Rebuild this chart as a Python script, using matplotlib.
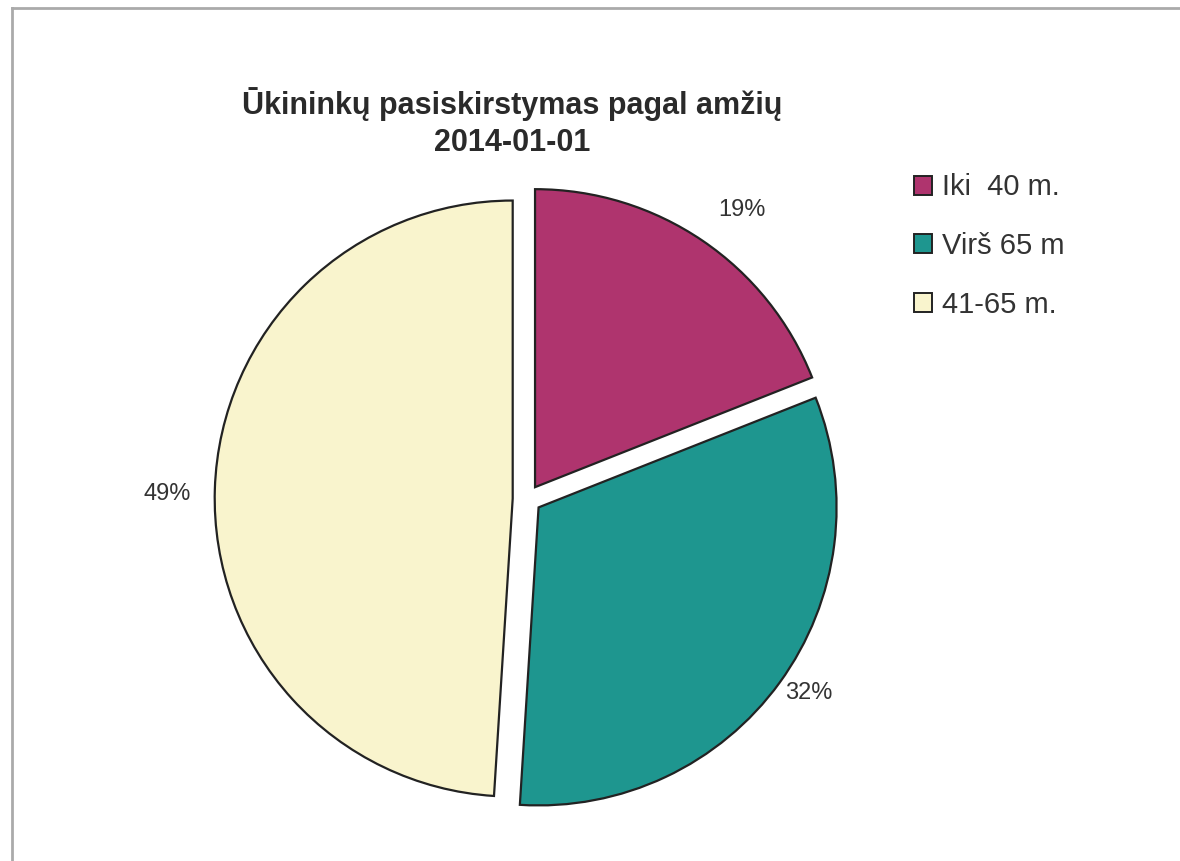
import numpy as np
import matplotlib.pyplot as plt
from matplotlib.lines import Line2D

# data
labels = ["Iki  40 m.", "Virš 65 m", "41-65 m."]
shares = [19, 32, 49]
colors = ["#AF346E", "#1E968F", "#F9F4CD"]
label_dist = [1.16, 1.10, 1.16]    # how far out each % label sits
label_turn = [-2.5, 1.5, 1.0]      # small angle tweak (deg) per label

plt.rcParams['font.family'] = ['Liberation Sans', 'DejaVu Sans']

fig = plt.figure(figsize=(11.8, 8.61), dpi=100)
ax = fig.add_axes([0, 0, 1, 1])

wedges, texts, autotexts = ax.pie(
    shares, colors=colors, startangle=90, counterclock=False,
    explode=[0.048] * 3, autopct='%d%%', pctdistance=1.15,
    wedgeprops=dict(edgecolor="#222222", linewidth=1.6),
    textprops=dict(fontsize=17, color="#333333"))

# place the % labels, one distance per slice
for w, t, d, a in zip(wedges, autotexts, label_dist, label_turn):
    th = np.deg2rad((w.theta1 + w.theta2) / 2 + a)
    t.set_position((w.center[0] + d * np.cos(th), w.center[1] + d * np.sin(th)))

# pie radius ~298 px, centre at (527, 499) px from top-left
r_px = 298.0
cx, cy = 527.0, 499.0
ax.set_xlim(-cx / r_px, (1180 - cx) / r_px)
ax.set_ylim(-(861 - cy) / r_px, cy / r_px)
ax.set_aspect('equal')
ax.axis('off')

fig.text(0.434, 0.858, "Ūkininkų pasiskirstymas pagal amžių\n2014-01-01",
         ha='center', va='center', fontsize=22, fontweight='bold',
         color="#2a2a2a", linespacing=1.3)

leg = fig.legend(wedges, labels, loc='upper left', bbox_to_anchor=(0.7525, 0.829),
                 frameon=False, fontsize=21, handlelength=0.62, handleheight=0.62,
                 handletextpad=0.33, labelspacing=1.05, labelcolor="#333333")
for h in leg.legend_handles:
    h.set_linewidth(1.4)

# thin grey frame on the top and left edges
fig.add_artist(Line2D([12 / 1180, 1], [1 - 8 / 861, 1 - 8 / 861],
                      transform=fig.transFigure, color="#aaaaaa", lw=2))
fig.add_artist(Line2D([12 / 1180, 12 / 1180], [0, 1 - 8 / 861],
                      transform=fig.transFigure, color="#aaaaaa", lw=2))

plt.savefig("out.png", dpi=100)
